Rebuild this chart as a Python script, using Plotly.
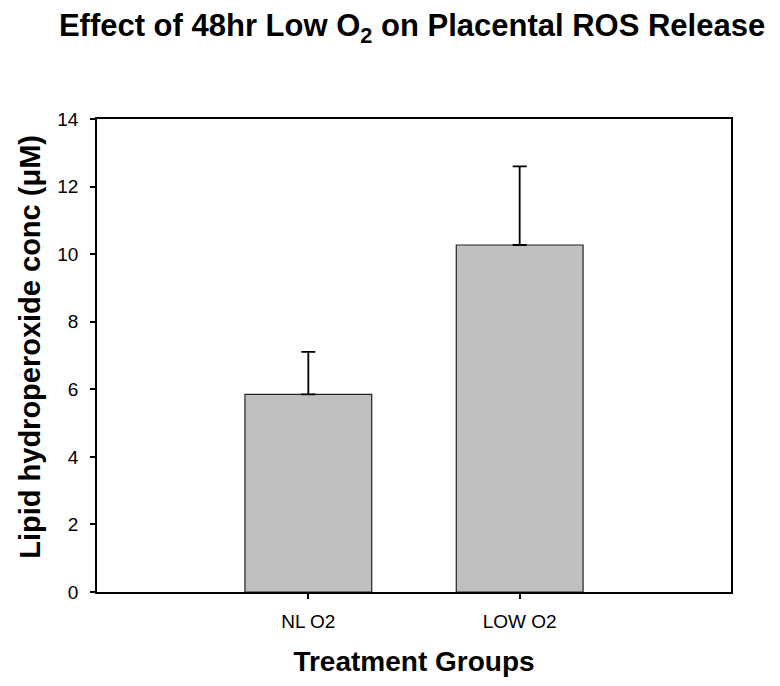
import plotly.graph_objects as go

categories = ["NL O2", "LOW O2"]
means = [5.85, 10.27]
sem_upper = [1.26, 2.33]
y_ticks = [0, 2, 4, 6, 8, 10, 12, 14]

fig = go.Figure()
fig.add_trace(go.Bar(
    x=[0, 1],
    y=means,
    width=0.6,
    marker=dict(color="#c0c0c0", line=dict(color="#222222", width=1.2)),
    error_y=dict(type="data", symmetric=False, array=sem_upper,
                 arrayminus=[0, 0], color="#000000", thickness=1.8, width=7),
    showlegend=False,
))

fig.update_layout(
    width=780, height=686,
    paper_bgcolor="white", plot_bgcolor="white",
    margin=dict(l=89, r=57, t=111, b=102, autoexpand=False),
    title=dict(text="Effect of 48hr Low O<sub>2</sub> on Placental ROS Release",
               x=0.518, xanchor="center", y=0.975, yanchor="middle",
               font=dict(family="Liberation Sans, Arial", size=31, color="black", weight="bold")),
    font=dict(family="Liberation Sans, Arial", color="black"),
    annotations=[dict(
        text="Lipid hydroperoxide conc (\u03bcM)", textangle=-90,
        xref="paper", yref="paper", x=-0.106, y=0.518,
        xanchor="center", yanchor="middle", showarrow=False,
        font=dict(family="Liberation Sans, Arial", size=29, color="black", weight="bold"),
    )],
)
fig.update_xaxes(
    range=[-1, 2], tickvals=[0, 1], ticktext=categories,
    ticks="outside", ticklen=5, tickwidth=1.5, tickcolor="black",
    showline=True, linecolor="black", linewidth=1.8, mirror=True,
    showgrid=False, zeroline=False, automargin=False,
    tickfont=dict(size=19, color="black"), ticklabelstandoff=6,
    title=dict(text="Treatment Groups", font=dict(size=28, weight="bold"), standoff=21),
)
fig.update_yaxes(
    range=[0, 14], tickvals=y_ticks,
    ticks="outside", ticklen=5, tickwidth=1.5, tickcolor="black",
    showline=True, linecolor="black", linewidth=1.8, mirror=True,
    showgrid=False, zeroline=False, automargin=False,
    tickfont=dict(size=19, color="black"), ticklabelstandoff=8,
)

fig.write_html("out.html")
